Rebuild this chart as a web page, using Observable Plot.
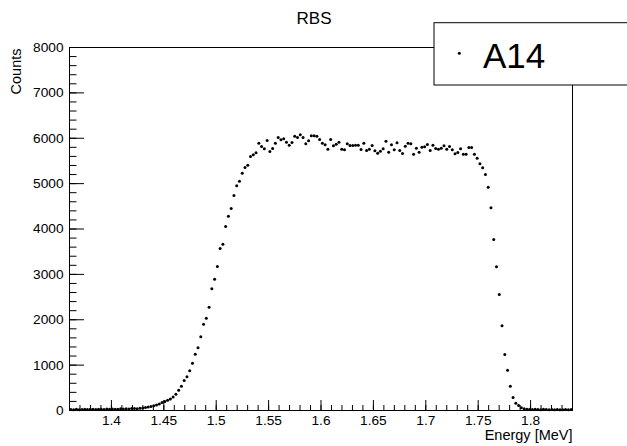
<!DOCTYPE html>
<html>
<head>
<meta charset="utf-8">
<script src="https://cdn.jsdelivr.net/npm/d3@7"></script>
<script src="https://cdn.jsdelivr.net/npm/@observablehq/plot@0.6"></script>
<style>
  html, body { margin: 0; padding: 0; background: #fff; }
  #chart svg { display: block; }
</style>
</head>
<body>
<div id="chart"></div>
<script>
// Histogram range (MeV) and bin contents
const energyRange = [1.36, 1.84];
const counts = [
  20, 15, 25, 18, 22, 30, 20, 25, 28, 22,
  30, 25, 20, 32, 28, 35, 30, 25, 38, 33,
  40, 35, 42, 45, 40, 50, 55, 65, 75, 90,
  105, 120, 145, 175, 200, 225, 255, 295, 360, 445,
  536, 661, 742, 874, 1043, 1241, 1382, 1624, 1902, 2034,
  2277, 2682, 2894, 3174, 3570, 3665, 4055, 4282, 4452, 4738,
  4952, 5054, 5230, 5356, 5407, 5598, 5635, 5680, 5892, 5819,
  5768, 5951, 5708, 5774, 5892, 6017, 5966, 5988, 5914, 5848,
  5907, 6046, 6017, 6076, 6017, 5878, 5944, 6054, 6054, 6046,
  5973, 5892, 5856, 5760, 5973, 5834, 5870, 5914, 5760, 5746,
  5878, 5841, 5841, 5848, 5848, 5753, 5892, 5730, 5760, 5841,
  5724, 5671, 5716, 5768, 5936, 5694, 5856, 5746, 5900, 5730,
  5665, 5826, 5892, 5878, 5650, 5782, 5694, 5804, 5812, 5863,
  5730, 5848, 5775, 5760, 5782, 5834, 5760, 5819, 5746, 5657,
  5687, 5768, 5650, 5650, 5797, 5797, 5650, 5561, 5437, 5349,
  5201, 4921, 4468, 3769, 3167, 2557, 1867, 1234, 888, 536,
  287, 161, 110, 60, 40, 30, 25, 20, 28, 22,
  18, 25, 20, 15, 22, 18, 20, 15, 18, 22,
  15, 20
];
const countRange = [0, 8000];
const xMajorTicks = [1.4, 1.45, 1.5, 1.55, 1.6, 1.65, 1.7, 1.75, 1.8];
const xMinorTicks = d3.range(136, 185).map(v => v / 100);
const yMajorTicks = [0, 1000, 2000, 3000, 4000, 5000, 6000, 7000, 8000];
const yMinorTicks = d3.range(0, 8001, 200);
const titleText = "RBS";
const xLabel = "Energy [MeV]";
const yLabel = "Counts";
const legendLabel = "A14";

const binWidth = (energyRange[1] - energyRange[0]) / counts.length;
const data = counts.map((c, i) => ({energy: energyRange[0] + (i + 0.5) * binWidth, counts: c}));

const FONT = "'Liberation Sans', Arial, Helvetica, sans-serif";

function legendMark(index, scales, values, dimensions) {
  const g = d3.create("svg:g");
  const left = 434, top = 22.7, h = 62.3;
  g.append("rect").attr("x", left).attr("y", top).attr("width", dimensions.width - left + 20).attr("height", h)
    .attr("fill", "white").attr("stroke", "black").attr("stroke-width", 1);
  g.append("circle").attr("cx", left + 25.3).attr("cy", top + 30.6).attr("r", 1.5).attr("fill", "black");
  g.append("text").attr("x", left + 49).attr("y", top + 45.6).attr("font-size", 35)
    .attr("text-anchor", "start").attr("font-family", FONT).attr("fill", "black").text(legendLabel);
  return g.node();
}

const chart = Plot.plot({
  width: 627,
  height: 446,
  marginTop: 47,
  marginRight: 55,
  marginBottom: 36,
  marginLeft: 69,
  style: {background: "white", color: "black", fontFamily: FONT},
  x: {domain: energyRange, axis: null},
  y: {domain: countRange, axis: null},
  marks: [
    Plot.frame({stroke: "black", strokeWidth: 1}),
    Plot.axisX(xMinorTicks, {anchor: "bottom", tickSize: -5, fill: "none", label: null}),
    Plot.axisX(xMajorTicks, {anchor: "bottom", tickSize: -10, tickPadding: 14.5, fontSize: 13.7, tickFormat: d => String(d), label: null}),
    Plot.axisY(yMinorTicks, {anchor: "left", tickSize: -7.5, fill: "none", label: null}),
    Plot.axisY(yMajorTicks, {anchor: "left", tickSize: -15, tickPadding: 21, fontSize: 13.7, tickFormat: d => String(d), label: null}),
    Plot.dot(data, {x: "energy", y: "counts", r: 1.5, fill: "black", stroke: "none"}),
    Plot.text([titleText], {frameAnchor: "top", dx: -7, dy: -29, fontSize: 17, lineAnchor: "middle", fill: "black"}),
    Plot.text([xLabel], {frameAnchor: "bottom-right", textAnchor: "end", dy: 24.5, fontSize: 14.5, lineAnchor: "middle", fill: "black"}),
    Plot.text([yLabel], {frameAnchor: "top-left", textAnchor: "end", rotate: -90, dx: -53.5, dy: 1, fontSize: 14.5, lineAnchor: "middle", fill: "black"}),
    legendMark
  ]
});
document.getElementById("chart").appendChild(chart);
</script>
</body>
</html>
